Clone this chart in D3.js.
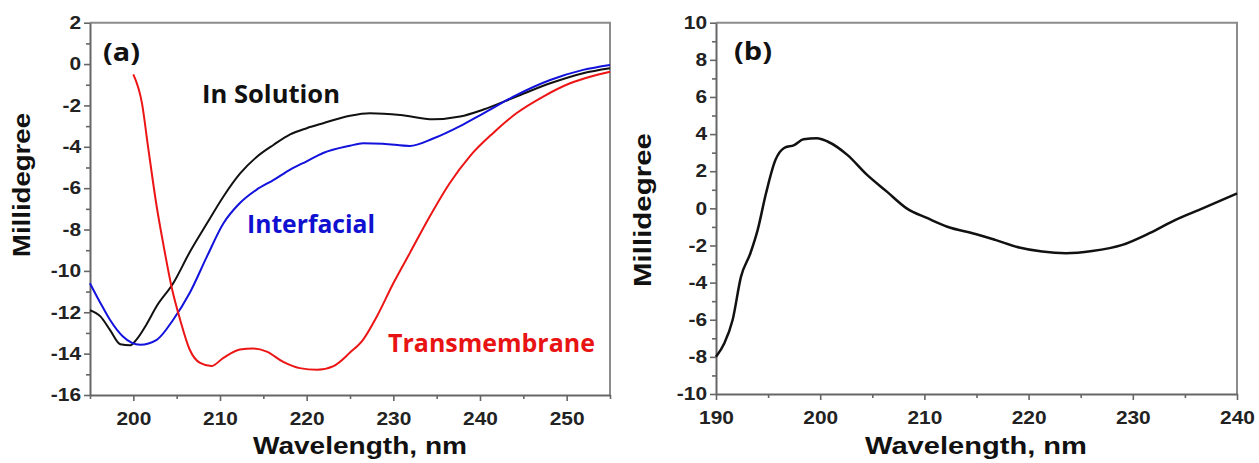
<!DOCTYPE html>
<html>
<head>
<meta charset="utf-8">
<script src="https://cdn.jsdelivr.net/npm/d3@7"></script>
<style>
    body{margin:0;background:#fff;}
    svg{display:block;}
    .tick text{font-family:"Liberation Sans",Arial,sans-serif;font-weight:bold;font-size:18px;fill:#222;}
    .axisTitle{font-family:"Liberation Sans",Arial,sans-serif;font-weight:bold;fill:#111;}
    .note{font-family:"Open Sans",sans-serif;font-weight:bold;font-size:25px;}
</style>
</head>
<body>
<div id="graphWrapper"></div>
<script>
//data, panel (a)
const solutionWl = [195,196.2,197.3,198.5,199.6,200.4,201.5,202.7,204.6,206.5,208.5,210.4,212.3,214.2,216.2,218.1,220,221.9,225,227.3,230.8,234.6,237.7,240.4,244.2,248.1,251.9,255];
const solutionMdeg = [-11.9,-12.2,-12.85,-13.55,-13.6,-13.3,-12.6,-11.7,-10.6,-9.1,-7.7,-6.4,-5.3,-4.5,-3.9,-3.4,-3.1,-2.86,-2.5,-2.38,-2.46,-2.67,-2.54,-2.2,-1.57,-0.93,-0.44,-0.2];

const interfacialWl = [195,196.2,197.3,198.8,200.8,202.7,204.6,206.5,208.5,210.4,212.3,214.2,216.2,218.1,220,221.9,225,226.5,228.8,231.9,234.6,237.7,240.4,244.2,248.1,251.9,255];
const interfacialMdeg = [-10.6,-11.55,-12.36,-13.17,-13.57,-13.33,-12.36,-11.07,-9.3,-7.7,-6.72,-6.08,-5.6,-5.1,-4.7,-4.3,-3.95,-3.83,-3.85,-3.96,-3.6,-3.0,-2.38,-1.5,-0.77,-0.28,-0.04];

const transWl = [200,201,201.7,202.7,203.5,204.4,205.4,206.5,207.7,209,210.4,212.3,213.8,215.4,217.3,219.2,221.2,223.1,225,226.5,228.1,230,231.9,234.2,236.5,238.8,241.5,244.2,247.3,250.4,252.7,255];
const transMdeg = [-0.5,-1.9,-4.0,-6.9,-8.8,-10.75,-12.36,-13.8,-14.45,-14.6,-14.2,-13.8,-13.75,-13.9,-14.4,-14.7,-14.78,-14.6,-13.95,-13.33,-12.2,-10.6,-9.14,-7.37,-5.76,-4.47,-3.34,-2.38,-1.57,-0.93,-0.61,-0.37];

//panel (b)
const bWl = [190,190.8,191.6,192.4,193.3,194,194.8,195.7,196.5,197.5,198.4,199.7,200.7,202.6,204.5,206.4,208.3,210.3,212.2,214.9,216.8,219.1,221.3,223.6,226.1,229,231.6,234.1,236.7,240];
const bMdeg = [-8.0,-7.27,-6.0,-3.68,-2.42,-1.16,0.81,2.6,3.24,3.41,3.72,3.78,3.6,2.88,1.8,0.9,0.0,-0.53,-0.99,-1.38,-1.7,-2.11,-2.33,-2.42,-2.3,-1.97,-1.34,-0.62,0.0,0.8];

//tick values
const aXMajor = [200,210,220,230,240,250];
const aXMinor = [195,205,215,225,235,245,255];
const aYMajor = [-16,-14,-12,-10,-8,-6,-4,-2,0,2];
const aYMinor = [-15,-13,-11,-9,-7,-5,-3,-1,1];
const bXMajor = [190,200,210,220,230,240];
const bXMinor = [195,205,215,225,235];
const bYMajor = [-10,-8,-6,-4,-2,0,2,4,6,8,10];
const bYMinor = [-9,-7,-5,-3,-1,1,3,5,7,9];

const CONSTANTS = {
    WIDTH:1259,
    HEIGHT:463,
    AXIS_COLOR:'#666',
    FRAME_COLOR:'#8c8c8c',
    MAJOR_TICK:6,
    MINOR_TICK:4,
    STRETCH:1.16   //the source picture is a bit wider than the fonts
};

function main(){
    let svg = d3.select('#graphWrapper')
        .append('svg')
        .attr('width',CONSTANTS.WIDTH)
        .attr('height',CONSTANTS.HEIGHT);

    //panel (a)
    let a = buildPanel(svg,{
        xDomain:[195,255], xRange:[90,610],
        yDomain:[-16,2], yRange:[395,22.7],
        xMajor:aXMajor, xMinor:aXMinor, yMajor:aYMajor, yMinor:aYMinor
    });
    buildLine(svg,a,solutionWl,solutionMdeg,'#111',2);
    buildLine(svg,a,interfacialWl,interfacialMdeg,'#1212dc',2);
    buildLine(svg,a,transWl,transMdeg,'#ec1515',2);

    //panel (b)
    let b = buildPanel(svg,{
        xDomain:[190,240], xRange:[716,1237],
        yDomain:[-10,10], yRange:[394,22.7],
        xMajor:bXMajor, xMinor:bXMinor, yMajor:bYMajor, yMinor:bYMinor
    });
    buildLine(svg,b,bWl,bMdeg,'#111',2.5);

    //stretch the tick labels like in the picture
    svg.selectAll('.tick text').each(function(){
        let len = this.getComputedTextLength();
        if(len > 0){
            d3.select(this)
                .attr('textLength',len * CONSTANTS.STRETCH)
                .attr('lengthAdjust','spacingAndGlyphs');
        }
    });

    buildTitles(svg);
    buildNotes(svg);
}

//plain hyphen for negatives, as in the picture
function tickText(d){
    return String(d);
}

//draws the axes and the frame of one panel, returns the scales
function buildPanel(svg,cfg){
    let x = d3.scaleLinear().domain(cfg.xDomain).range(cfg.xRange);
    let y = d3.scaleLinear().domain(cfg.yDomain).range(cfg.yRange);
    let bottom = cfg.yRange[0];
    let left = cfg.xRange[0];

    //frame top and right
    let frame = d3.path();
    frame.moveTo(cfg.xRange[0],cfg.yRange[1]);
    frame.lineTo(cfg.xRange[1],cfg.yRange[1]);
    frame.lineTo(cfg.xRange[1],cfg.yRange[0]);
    svg.append('path')
        .attr('d',frame.toString())
        .attr('fill','none')
        .attr('stroke',CONSTANTS.FRAME_COLOR)
        .attr('stroke-width',2);

    //minor ticks
    svg.append('g')
        .attr('transform','translate(0,' + bottom + ')')
        .call(d3.axisBottom(x).tickValues(cfg.xMinor).tickSize(CONSTANTS.MINOR_TICK).tickFormat(''))
        .call(g=>g.select('.domain').remove());
    svg.append('g')
        .attr('transform','translate(' + left + ',0)')
        .call(d3.axisLeft(y).tickValues(cfg.yMinor).tickSize(CONSTANTS.MINOR_TICK).tickFormat(''))
        .call(g=>g.select('.domain').remove());

    //major ticks with labels
    svg.append('g')
        .attr('class','x-axis')
        .attr('transform','translate(0,' + bottom + ')')
        .call(d3.axisBottom(x).tickValues(cfg.xMajor).tickFormat(tickText).tickSize(CONSTANTS.MAJOR_TICK).tickSizeOuter(0).tickPadding(11));
    svg.append('g')
        .attr('class','y-axis')
        .attr('transform','translate(' + left + ',0)')
        .call(d3.axisLeft(y).tickValues(cfg.yMajor).tickFormat(tickText).tickSize(CONSTANTS.MAJOR_TICK).tickSizeOuter(0).tickPadding(3));

    svg.selectAll('.domain')
        .attr('stroke',CONSTANTS.AXIS_COLOR)
        .attr('stroke-width',2);
    svg.selectAll('.tick line')
        .attr('stroke',CONSTANTS.AXIS_COLOR)
        .attr('stroke-width',1.6);

    return {x:x,y:y};
}

function buildLine(svg,scales,xs,ys,color,width){
    let points = xs.map((d,i)=>[d,ys[i]]);
    let line = d3.line()
        .x(d=>scales.x(d[0]))
        .y(d=>scales.y(d[1]))
        .curve(d3.curveMonotoneX);
    svg.append('path')
        .datum(points)
        .attr('d',line)
        .attr('fill','none')
        .attr('stroke',color)
        .attr('stroke-width',width)
        .attr('stroke-linejoin','round');
}

//axis titles
function buildTitles(svg){
    let titles = [
        {text:'Wavelength, nm', x:360, y:454, len:214, rot:false},
        {text:'Wavelength, nm', x:976, y:454, len:222, rot:false},
        {text:'Millidegree', x:30, y:185, len:144, rot:true},
        {text:'Millidegree', x:651, y:210, len:154, rot:true}
    ];
    titles.forEach(t=>{
        svg.append('text')
            .attr('class','axisTitle')
            .attr('text-anchor','middle')
            .attr('font-size',t.rot ? 23 : 24)
            .attr('textLength',t.len)
            .attr('lengthAdjust','spacingAndGlyphs')
            .attr('transform','translate(' + t.x + ',' + t.y + ')' + (t.rot ? ' rotate(-90)' : ''))
            .text(t.text);
    });
}

//panel letters and series names
function buildNotes(svg){
    let notes = [
        {text:'(a)', x:103, y:61, len:37, color:'#111'},
        {text:'(b)', x:734, y:60, len:38, color:'#111'},
        {text:'In Solution', x:202, y:103, len:138, color:'#111'},
        {text:'Interfacial', x:247, y:233, len:128, color:'#1010d0'},
        {text:'Transmembrane', x:388, y:352, len:207, color:'#e81414'}
    ];
    notes.forEach(n=>{
        svg.append('text')
            .attr('class','note')
            .attr('x',n.x)
            .attr('y',n.y)
            .attr('textLength',n.len)
            .attr('lengthAdjust','spacingAndGlyphs')
            .style('fill',n.color)
            .text(n.text);
    });
}

main();
</script>
</body>
</html>
